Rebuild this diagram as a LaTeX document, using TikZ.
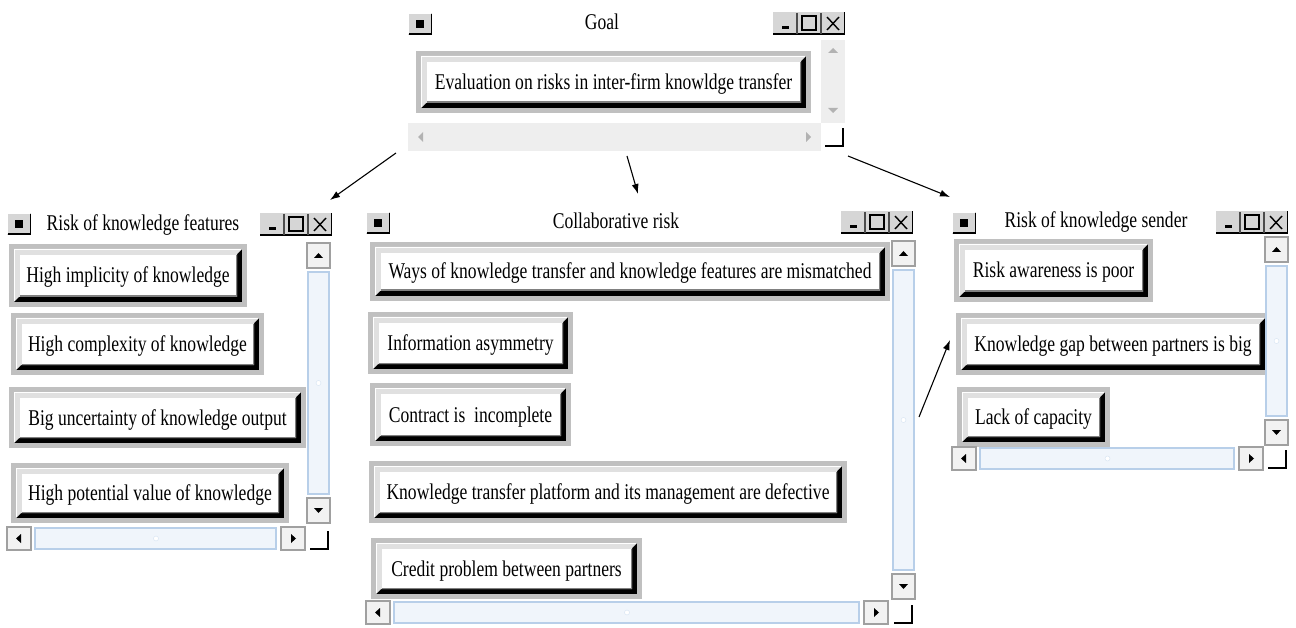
\documentclass[tikz,border=0pt]{standalone}
\usepackage{fontspec}
\setmainfont[FakeStretch=0.78]{Liberation Serif}
\usetikzlibrary{arrows.meta}

\definecolor{framegray}{RGB}{192,192,192}
\definecolor{bevelgray}{RGB}{224,224,224}
\definecolor{btngray}{RGB}{214,214,214}
\definecolor{offgray}{RGB}{238,238,238}
\definecolor{sbface}{RGB}{242,242,242}
\definecolor{sbedge}{RGB}{160,160,160}
\definecolor{trackfill}{RGB}{240,245,251}
\definecolor{trackline}{RGB}{184,207,233}

\tikzset{
  itemtext/.style={inner sep=0pt, anchor=base, font=\fontsize{22.5}{24}\selectfont},
  wintitle/.style={inner sep=0pt, anchor=base, font=\fontsize{22.5}{24}\selectfont},
  riskarrow/.style={line width=1.1pt, -{Latex[length=10pt,width=7pt]}},
  sbbutton/.style={fill=sbface, draw=sbedge, line width=1.5pt},
  sbtrack/.style={fill=trackfill, draw=trackline, line width=1.5pt},
}

% raised item: name, outer frame corners (y runs down), text
\def\riskbox(#1)(#2,#3)(#4,#5)#6{%
  \fill[framegray] (#2,#3) rectangle (#4,#5);
  \fill[black] ({#2+5},{#3+5}) rectangle ({#4-5},{#5-5});
  \fill[bevelgray] ({#2+5},{#3+5}) -- ({#4-5},{#3+5}) -- ({#4-10},{#3+10}) -- ({#4-10},{#5-10}) -- ({#2+10},{#5-10}) -- ({#2+5},{#5-5}) -- cycle;
  \draw[white, line width=1pt] ({#2+5.5},{#5-6}) -- ({#2+5.5},{#3+5.5}) -- ({#4-6},{#3+5.5});
  \fill[white] ({#2+11},{#3+11}) rectangle ({#4-10},{#5-10});
  \draw[black!50, line width=1.5pt] ({#2+11},{#5-10.75}) -- ({#4-10.75},{#5-10.75}) -- ({#4-10.75},{#3+11});
  \node[itemtext] (#1) at ({(#2+#4)/2},{(#3+#5)/2+7.5}) {#6};
}
\def\sysbtn(#1,#2){%
  \fill[btngray] (#1,#2) rectangle ({#1+24},{#2+22});
  \draw[white, line width=1.2pt] ({#1+0.6},{#2+21}) -- ({#1+0.6},{#2+0.6}) -- ({#1+23},{#2+0.6});
  \draw[line width=1.5pt] ({#1+0.75},{#2+21.25}) -- ({#1+23.25},{#2+21.25}) -- ({#1+23.25},{#2+0.75});
  \fill ({#1+8},{#2+7}) rectangle ({#1+16},{#2+15});
}
\def\winctrl(#1,#2){%
  \fill[btngray] (#1,#2) rectangle ({#1+72},{#2+23});
  \draw[line width=1.5pt] (#1,{#2+22.25}) -- ({#1+71.25},{#2+22.25}) -- ({#1+71.25},#2);
  \draw[black!70, line width=1.2pt] ({#1+24},{#2+1}) -- ({#1+24},{#2+22}) ({#1+48},{#2+1}) -- ({#1+48},{#2+22});
  \fill ({#1+9},{#2+14}) rectangle ({#1+16},{#2+17});
  \draw[line width=1.3pt] ({#1+29},{#2+4}) rectangle ({#1+43},{#2+18});
  \draw[line width=1.4pt] ({#1+54},{#2+5}) -- ({#1+66},{#2+18}) ({#1+66},{#2+5}) -- ({#1+54},{#2+18});
}
\def\vscroll(#1,#2,#3){% x, top, bottom
  \draw[sbbutton] (#1,#2) rectangle ({#1+23},{#2+25});
  \fill ({#1+7},{#2+15}) -- ({#1+16},{#2+15}) -- ({#1+11.5},{#2+10}) -- cycle;
  \draw[sbtrack] ({#1+1},{#2+29}) rectangle ({#1+22},{#3-29});
  \draw[trackline!60, fill=white] ({#1+11.5},{(#2+#3)/2}) circle (2.5);
  \draw[sbbutton] (#1,{#3-25}) rectangle ({#1+23},#3);
  \fill ({#1+7},{#3-15}) -- ({#1+16},{#3-15}) -- ({#1+11.5},{#3-10}) -- cycle;
}
\def\hscroll(#1,#2,#3){% y, left, right
  \draw[sbbutton] (#2,#1) rectangle ({#2+24},{#1+23});
  \fill ({#2+14},{#1+7}) -- ({#2+14},{#1+16}) -- ({#2+9},{#1+11.5}) -- cycle;
  \draw[sbtrack] ({#2+28},{#1+1}) rectangle ({#3-29},{#1+22});
  \draw[trackline!60, fill=white] ({(#2+#3)/2},{#1+11.5}) circle (2.5);
  \draw[sbbutton] ({#3-24},#1) rectangle (#3,{#1+23});
  \fill ({#3-14},{#1+7}) -- ({#3-14},{#1+16}) -- ({#3-9},{#1+11.5}) -- cycle;
}
\def\sizegrip(#1,#2){%
  \draw[line width=1.5pt] (#1,{#2+18}) -- ({#1+18},{#2+18}) -- ({#1+18},#2);
}

\begin{document}
\begin{tikzpicture}[x=1pt, y=-1pt]
  %%%%% START %%%%%
  \useasboundingbox (0,0) rectangle (1296,628);

  % goal window
  \sysbtn(408,13)
  \node[wintitle] (goaltitle) at (602,30) {Goal};
  \winctrl(773,12)
  \riskbox(goal)(416,51)(811,113){Evaluation on risks in inter-firm knowldge transfer}
  \fill[offgray] (821,40) rectangle (845,123);
  \fill[offgray] (408,123) rectangle (821,151);
  \fill[black!30] (828,53) -- (838,53) -- (833,48) -- cycle;
  \fill[black!30] (828,108) -- (838,108) -- (833,113) -- cycle;
  \fill[black!30] (423,132) -- (423,142) -- (418,137) -- cycle;
  \fill[black!30] (806,132) -- (806,142) -- (811,137) -- cycle;
  \sizegrip(825,128)

  % risk of knowledge features
  \sysbtn(7,213)
  \node[wintitle] (feattitle) at (143,231) {Risk of knowledge features};
  \winctrl(260,213)
  \riskbox(imp)(9,244)(247,307){High implicity of knowledge}
  \riskbox(cpx)(11,313)(264,375){High complexity of knowledge}
  \riskbox(unc)(9,387)(306,448){Big uncertainty of knowledge output}
  \riskbox(pot)(11,463)(289,523){High potential value of knowledge}
  \vscroll(307,243,523)
  \hscroll(527,7,305)
  \sizegrip(310,531)

  % collaborative risk
  \sysbtn(366,212)
  \node[wintitle] (collabtitle) at (616,229) {Collaborative risk};
  \winctrl(841,211)
  \riskbox(way)(370,242)(890,301){Ways of knowledge transfer and knowledge features are mismatched}
  \riskbox(inf)(368,312)(573,374){Information asymmetry}
  \riskbox(con)(370,383)(571,446){Contract is~ incomplete}
  \riskbox(plat)(369,461)(847,523){Knowledge transfer platform and its management are defective}
  \riskbox(cred)(371,538)(642,599){Credit problem between partners}
  \vscroll(892,241,599)
  \hscroll(601,366,888)
  \sizegrip(894,605)

  % risk of knowledge sender
  \sysbtn(952,212)
  \node[wintitle] (sendtitle) at (1096,228) {Risk of knowledge sender};
  \winctrl(1216,211)
  \riskbox(awa)(954,239)(1153,302){Risk awareness is poor}
  \riskbox(gap)(956,313)(1270,375){Knowledge gap between partners is big}
  \riskbox(lack)(957,387)(1110,447){Lack of capacity}
  \vscroll(1265,237,445)
  \hscroll(447,952,1263)
  \sizegrip(1268,450)

  % arrows
  \coordinate (goalleft) at (396,153);
  \coordinate (goalmid) at (627,156);
  \coordinate (goalright) at (848,156);
  \coordinate (featin) at (330,200);
  \coordinate (collabin) at (638,194);
  \coordinate (sendin) at (950,197);
  \coordinate (collabout) at (919,417);
  \coordinate (gapin) at (950,340);
  \draw[riskarrow] (goalleft) -- (featin);
  \draw[riskarrow] (goalmid) -- (collabin);
  \draw[riskarrow] (goalright) -- (sendin);
  \draw[riskarrow] (collabout) -- (gapin);
  %%%%% END %%%%%
\end{tikzpicture}
\end{document}
